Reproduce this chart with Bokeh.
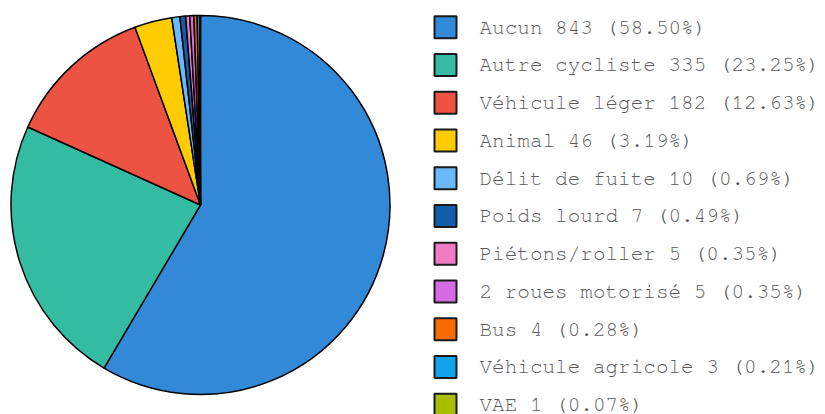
import math
from bokeh.plotting import figure
from bokeh.models import Range1d, ColumnDataSource
from bokeh.core.properties import value
from bokeh.embed import file_html
from bokeh.resources import INLINE

categories = ["Aucun", "Autre cycliste", "Véhicule léger", "Animal", "Délit de fuite",
              "Poids lourd", "Piétons/roller", "2 roues motorisé", "Bus",
              "Véhicule agricole", "VAE"]
counts = [843, 335, 182, 46, 10, 7, 5, 5, 4, 3, 1]
colors = ["#3189d8", "#33bca2", "#ec5343", "#fecc00", "#69b9fb", "#125da8",
          "#f07cc6", "#d56ce4", "#f96c04", "#11a3ec", "#a8bf00"]

W, H = 825, 414
total = sum(counts)

# pie geometry (screen-mapped data units)
cx, cy, R = 200, H - 204.5, 189.5

starts, ends = [], []
cum = 0
for c in counts:
    starts.append(math.pi / 2 - 2 * math.pi * cum / total)
    cum += c
    ends.append(math.pi / 2 - 2 * math.pi * cum / total)

labels = [f"{cat} {c} ({100 * c / total:.2f}%)" for cat, c in zip(categories, counts)]

n = len(categories)
row_y = [H - (26.7 + i * 37.75) for i in range(n)]

p = figure(width=W, height=H, output_backend="svg", toolbar_location=None,
           x_range=Range1d(0, W), y_range=Range1d(0, H), min_border=0)
p.axis.visible = False
p.grid.visible = False
p.outline_line_color = None
p.background_fill_color = "white"
p.border_fill_color = "white"

src = ColumnDataSource(dict(start=starts, end=ends, color=colors))
p.wedge(x=cx, y=cy, radius=R, radius_units="screen", start_angle="start",
        end_angle="end", direction="clock", fill_color="color",
        line_color="black", line_width=1.5, source=src)

lsrc = ColumnDataSource(dict(x=[445] * n, tx=[479] * n, y=row_y,
                             color=colors, label=labels))
p.rect(x="x", y="y", width=22, height=22, width_units="screen",
       height_units="screen", fill_color="color", line_color="#1a1a1a",
       line_width=2, source=lsrc)
p.text(x="tx", y="y", text="label", source=lsrc,
       text_font=value("FreeMono, 'Nimbus Mono PS', Courier, 'Liberation Mono'"),
       text_font_size="21px", text_color="#5a5a5a", text_baseline="middle",
       text_align="left")

open("out.html", "w").write(file_html(p, INLINE))
